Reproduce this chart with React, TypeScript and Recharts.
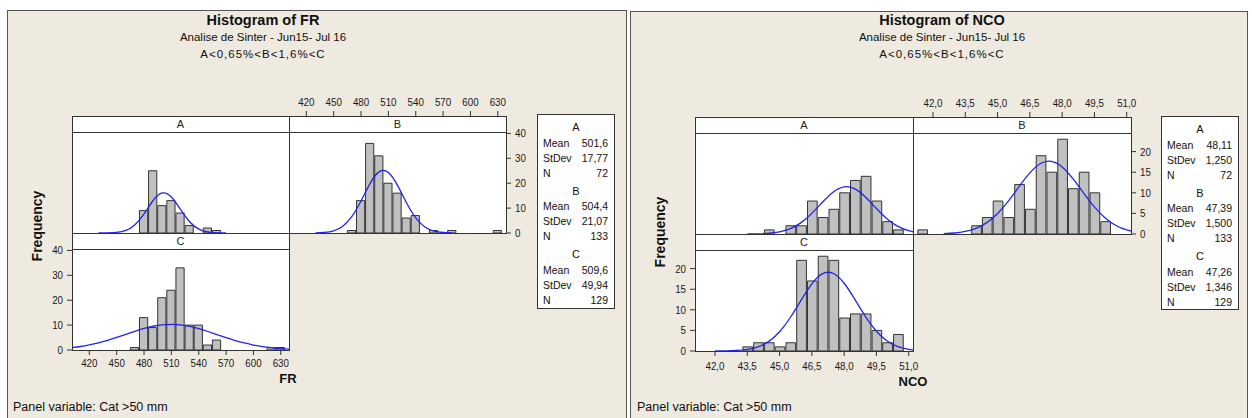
import { ComposedChart, Bar, Line, XAxis, YAxis } from "recharts";

const FONT = "'Liberation Sans', Arial, sans-serif";
const BEIGE = "#eeeae0";
const BAR_FILL = "#c0c0c0";
const EDGE = "#333333";
const FIT_BLUE = "#2424e8";

const PANEL_LABELS = ["A", "B", "C"];

// ---- FR (bins of 10) ----
const FR_BINS = [400, 410, 420, 430, 440, 450, 460, 470, 480, 490, 500, 510, 520, 530, 540, 550, 560, 570, 580, 590, 600, 610, 620, 630, 640];
const FR_TICKS = [420, 450, 480, 510, 540, 570, 600, 630];
const FR_FREQ_TICKS = [0, 10, 20, 30, 40];
const FR_A_COUNTS = [0, 0, 0, 0, 0, 0, 0, 0, 9, 25, 11, 13, 8, 3, 0, 2, 1, 0, 0, 0, 0, 0, 0, 0, 0];
const FR_B_COUNTS = [0, 0, 0, 0, 0, 0, 0, 1, 13, 36, 31, 20, 16, 6, 7, 0, 1, 0, 1, 0, 0, 0, 0, 1, 0];
const FR_C_COUNTS = [0, 0, 0, 0, 0, 0, 0, 1, 13, 9, 21, 24, 33, 10, 10, 2, 4, 0, 0, 0, 0, 0, 1, 1, 0];
const FR_A_FIT = [null, null, null, 0.01, 0.04, 0.24, 1.04, 3.33, 7.72, 13.06, 16.09, 14.45, 9.45, 4.51, 1.56, 0.4, 0.07, 0.01, null, null, null, null, null, null, null];
const FR_B_FIT = [null, null, null, 0.05, 0.24, 0.9, 2.74, 6.65, 12.88, 19.95, 24.64, 24.32, 19.15, 12.04, 6.05, 2.42, 0.77, 0.2, 0.04, null, null, null, null, null, null];
const FR_C_FIT = [0.93, 1.41, 2.06, 2.89, 3.9, 5.05, 6.29, 7.52, 8.64, 9.54, 10.11, 10.3, 10.08, 9.48, 8.56, 7.43, 6.19, 4.96, 3.81, 2.82, 2.0, 1.36, 0.9, 0.56, 0.34];
const FR_MEAN = ["501,6", "504,4", "509,6"];
const FR_STDEV = ["17,77", "21,07", "49,94"];
const FR_N = [72, 133, 129];

// ---- NCO (bins of 0.5) ----
const NCO_BINS = [41, 41.5, 42, 42.5, 43, 43.5, 44, 44.5, 45, 45.5, 46, 46.5, 47, 47.5, 48, 48.5, 49, 49.5, 50, 50.5, 51, 51.5];
const NCO_TICKS = [42, 43.5, 45, 46.5, 48, 49.5, 51];
const NCO_FREQ_TICKS = [0, 5, 10, 15, 20];
const NCO_A_COUNTS = [0, 0, 0, 0, 0, 0, 0, 1, 0, 2, 2, 8, 4, 6, 10, 13, 14, 8, 3, 1, 0, 0];
const NCO_B_COUNTS = [0, 1, 0, 0, 0, 0, 2, 4, 8, 4, 12, 6, 19, 15, 23, 11, 15, 10, 3, 0, 0, 0];
const NCO_C_COUNTS = [0, 0, 0, 0, 0, 1, 2, 2, 1, 2, 22, 17, 23, 22, 8, 9, 9, 5, 2, 4, 0, 0];
const NCO_A_FIT = [null, null, null, null, null, 0.01, 0.05, 0.18, 0.52, 1.3, 2.76, 5.01, 7.75, 10.2, 11.45, 10.94, 8.92, 6.19, 3.66, 1.85, 0.79, 0.29];
const NCO_B_FIT = [null, null, null, 0.09, 0.24, 0.61, 1.38, 2.77, 4.97, 8.0, 11.51, 14.83, 17.1, 17.64, 16.29, 13.45, 9.94, 6.58, 3.89, 2.06, 0.98, 0.41];
const NCO_C_FIT = [null, null, 0.01, 0.04, 0.13, 0.39, 1.02, 2.34, 4.67, 8.13, 12.34, 16.3, 18.77, 18.82, 16.44, 12.51, 8.29, 4.79, 2.41, 1.06, 0.4, 0.13];
const NCO_MEAN = ["48,11", "47,39", "47,26"];
const NCO_STDEV = ["1,250", "1,500", "1,346"];
const NCO_N = [72, 133, 129];

const fmtInt = (v: number) => String(v);
const fmtComma = (v: number) => v.toFixed(1).replace(".", ",");

type TickProps = { x?: number; y?: number; payload?: { value: number }; textAnchor?: string; fmt: (v: number) => string; shift: string };

const AxisTick = ({ x = 0, y = 0, payload, textAnchor, fmt, shift }: TickProps) => (
  <g transform={`translate(${x},${y})`}>
    <text transform="scale(0.85,1)" textAnchor={textAnchor} dy={shift} fontSize={11.5} fill="#1a1a1a" fontFamily={FONT}>
      {payload ? fmt(payload.value) : ""}
    </text>
  </g>
);

const Label = ({ x, y, size, bold, anchor = "middle", rotate, spacing, children }: any) => (
  <div
    style={{
      position: "absolute", left: x, top: y, whiteSpace: "nowrap", fontFamily: FONT, fontSize: size,
      fontWeight: bold ? 700 : 400, color: "#111", lineHeight: 1, letterSpacing: spacing,
      transform: `translate(${anchor === "start" ? "0" : "-50%"},-50%)${rotate ? " rotate(-90deg)" : ""}`,
    }}
  >
    {children}
  </div>
);

const AX_H = 20;
const AX_W = 30;
const PAD = 12; // room so edge tick labels are not clipped

type PanelProps = {
  left: number; top: number; width: number; height: number; label: string;
  rows: { x: number; count: number | null; fit: number | null }[];
  xDomain: [number, number]; yDomain: [number, number];
  xTicks: number[]; yTicks: number[]; fmt: (v: number) => string;
  xAxis: "top" | "bottom" | "none"; yAxis: "left" | "right" | "none";
  barSize: number; bottomMargin: number;
};

const Panel = (p: PanelProps) => {
  const chartLeft = (p.yAxis === "left" ? p.left - AX_W : p.left) - PAD;
  const chartTop = (p.xAxis === "top" ? p.top - AX_H : p.top) - PAD;
  const w = p.width + (p.yAxis === "none" ? 0 : AX_W) + PAD * 2;
  const h = p.height + (p.xAxis === "none" ? 0 : AX_H) + PAD * 2;
  return (
    <>
      <div style={{ position: "absolute", left: p.left, top: p.top, width: p.width, height: p.height, background: "#fff" }} />
      <div style={{ position: "absolute", left: chartLeft, top: chartTop }}>
        <ComposedChart width={w} height={h} data={p.rows} margin={{ top: PAD, right: PAD, bottom: PAD, left: PAD }}>
          <XAxis
            type="number"
            dataKey="x"
            domain={p.xDomain}
            allowDataOverflow
            hide={p.xAxis === "none"}
            orientation={p.xAxis === "top" ? "top" : "bottom"}
            height={AX_H}
            ticks={p.xTicks}
            interval={0}
            tickSize={5}
            tickMargin={p.xAxis === "top" ? 4 : p.bottomMargin}
            axisLine={false}
            tickLine={{ stroke: EDGE }}
            tick={<AxisTick fmt={p.fmt} shift={p.xAxis === "top" ? "-1" : "0.72em"} />}
          />
          <YAxis
            type="number"
            domain={p.yDomain}
            allowDataOverflow
            hide={p.yAxis === "none"}
            orientation={p.yAxis === "left" ? "left" : "right"}
            width={AX_W}
            ticks={p.yTicks}
            interval={0}
            tickSize={5}
            tickMargin={4}
            axisLine={false}
            tickLine={{ stroke: EDGE }}
            tick={<AxisTick fmt={fmtInt} shift="0.35em" />}
          />
          <Bar dataKey="count" fill={BAR_FILL} stroke={EDGE} strokeWidth={1} barSize={p.barSize} isAnimationActive={false} />
          <Line dataKey="fit" type="natural" stroke={FIT_BLUE} strokeWidth={1.3} dot={false} connectNulls={false} isAnimationActive={false} />
        </ComposedChart>
      </div>
      <div
        style={{
          position: "absolute", left: p.left, top: p.top, width: p.width, height: 17, boxSizing: "border-box",
          background: "#fff", borderBottom: `1px solid ${EDGE}`, fontFamily: FONT, fontSize: 11, color: "#222",
          textAlign: "center", lineHeight: "16px",
        }}
      >
        {p.label}
      </div>
      <div
        style={{
          position: "absolute", left: p.left, top: p.top, width: p.width + 1, height: p.height + 1,
          boxSizing: "border-box", border: `1px solid ${EDGE}`,
        }}
      />
    </>
  );
};

const StatsBox = ({ left, top, width, height, mean, stdev, n }: any) => (
  <div
    style={{
      position: "absolute", left, top, width, height, boxSizing: "border-box", border: `1px solid ${EDGE}`,
      background: "#fff", fontFamily: FONT, fontSize: 10.5, color: "#111",
    }}
  >
    {PANEL_LABELS.map((g, i) => {
      const y0 = 12 + i * 63.6;
      const lines: [string, string][] = [["Mean", mean[i]], ["StDev", stdev[i]], ["N", String(n[i])]];
      return (
        <div key={g}>
          <div style={{ position: "absolute", left: 0, right: 0, top: y0 - 6, textAlign: "center", lineHeight: "12px", fontSize: 11 }}>{g}</div>
          {lines.map(([k, v], j) => (
            <div
              key={k}
              style={{
                position: "absolute", left: 5, right: 6, top: y0 + 15.5 + j * 15 - 6, lineHeight: "12px",
                display: "flex", justifyContent: "space-between",
              }}
            >
              <span>{k}</span>
              <span>{v}</span>
            </div>
          ))}
        </div>
      );
    })}
  </div>
);

type FigureProps = {
  boxLeft: number; boxTop: number; boxWidth: number; titleX: number; title: string; varName: string;
  gridLeft: number; gridTop: number; panelW: number; panelH: number;
  legend: [number, number, number, number]; freqAt: [number, number]; varAt: [number, number]; footX: number;
  bins: number[]; counts: number[][]; fits: (number | null)[][];
  xDomain: [number, number]; yDomain: [number, number]; xTicks: number[]; yTicks: number[];
  fmt: (v: number) => string; binWidth: number; bottomMargin: number;
  mean: string[]; stdev: string[]; n: number[];
};

const Figure = (f: FigureProps) => {
  const rows = (i: number) =>
    f.bins.map((x, k) => ({ x, count: f.counts[i][k] || null, fit: f.fits[i][k] }));
  const barSize = (f.panelW / (f.xDomain[1] - f.xDomain[0])) * f.binWidth;
  const common = {
    width: f.panelW, height: f.panelH, xDomain: f.xDomain, yDomain: f.yDomain, xTicks: f.xTicks,
    yTicks: f.yTicks, fmt: f.fmt, barSize, bottomMargin: f.bottomMargin,
  };
  return (
    <>
      <div
        style={{
          position: "absolute", left: f.boxLeft, top: f.boxTop, width: f.boxWidth, height: 430,
          boxSizing: "border-box", border: "1px solid #555", background: BEIGE,
        }}
      />
      <Label x={f.titleX} y={20} size={14.5} bold>{f.title}</Label>
      <Label x={f.titleX} y={37.5} size={11.5}>Analise de Sinter - Jun15- Jul 16</Label>
      <Label x={f.titleX} y={54.5} size={11.5} spacing={1}>A&lt;0,65%&lt;B&lt;1,6%&lt;C</Label>
      <Panel {...common} left={f.gridLeft} top={f.gridTop} label="A" rows={rows(0)} xAxis="none" yAxis="none" />
      <Panel {...common} left={f.gridLeft + f.panelW} top={f.gridTop} label="B" rows={rows(1)} xAxis="top" yAxis="right" />
      <Panel {...common} left={f.gridLeft} top={f.gridTop + f.panelH} label="C" rows={rows(2)} xAxis="bottom" yAxis="left" />
      <StatsBox left={f.legend[0]} top={f.legend[1]} width={f.legend[2]} height={f.legend[3]} mean={f.mean} stdev={f.stdev} n={f.n} />
      <Label x={f.freqAt[0]} y={f.freqAt[1]} size={14} bold rotate>Frequency</Label>
      <Label x={f.varAt[0]} y={f.varAt[1]} size={13} bold>{f.varName}</Label>
      <Label x={f.footX} y={407} size={12.5} anchor="start">Panel variable: Cat &gt;50 mm</Label>
    </>
  );
};

export default function App() {
  return (
    <div style={{ position: "absolute", left: 0, top: 0, width: 1252, height: 418, overflow: "hidden", background: "#fff" }}>
      <Figure
        boxLeft={7} boxTop={10} boxWidth={620} titleX={263} title="Histogram of FR" varName="FR"
        gridLeft={72} gridTop={116} panelW={217} panelH={117}
        legend={[537, 114, 78, 195]} freqAt={[37, 226]} varAt={[288, 378]} footX={13}
        bins={FR_BINS} counts={[FR_A_COUNTS, FR_B_COUNTS, FR_C_COUNTS]} fits={[FR_A_FIT, FR_B_FIT, FR_C_FIT]}
        xDomain={[401, 639]} yDomain={[0, 47]} xTicks={FR_TICKS} yTicks={FR_FREQ_TICKS}
        fmt={fmtInt} binWidth={10} bottomMargin={4}
        mean={FR_MEAN} stdev={FR_STDEV} n={FR_N}
      />
      <Figure
        boxLeft={630} boxTop={11} boxWidth={618} titleX={942} title="Histogram of NCO" varName="NCO"
        gridLeft={695} gridTop={117} panelW={218} panelH={117}
        legend={[1161, 116, 78, 194]} freqAt={[660, 232]} varAt={[913, 381]} footX={637}
        bins={NCO_BINS} counts={[NCO_A_COUNTS, NCO_B_COUNTS, NCO_C_COUNTS]} fits={[NCO_A_FIT, NCO_B_FIT, NCO_C_FIT]}
        xDomain={[41.07, 51.2]} yDomain={[0, 28.4]} xTicks={NCO_TICKS} yTicks={NCO_FREQ_TICKS}
        fmt={fmtComma} binWidth={0.5} bottomMargin={6}
        mean={NCO_MEAN} stdev={NCO_STDEV} n={NCO_N}
      />
    </div>
  );
}
